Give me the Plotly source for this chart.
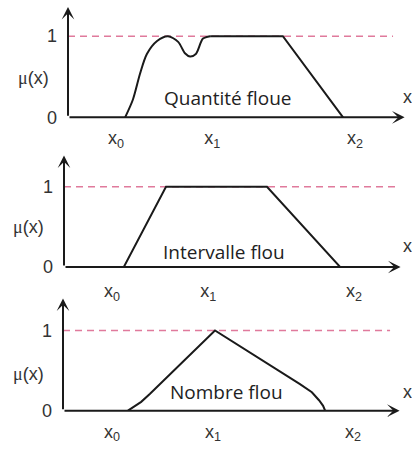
import plotly.graph_objects as go

# ---------------- data ----------------
panel_titles = ["Quantité floue", "Intervalle flou", "Nombre flou"]
tick_text = ["x<sub>0</sub>", "x<sub>1</sub>", "x<sub>2</sub>"]
y_tick_vals = [0, 1]
y_tick_text = ["0", "1"]

# Panel 1: fuzzy quantity (smooth rising part, then flat top and linear descent)
q_curve_x = [1.68, 1.91, 2.12, 2.32, 2.62, 2.94, 3.24, 3.44, 3.59, 3.76, 3.97, 4.18]
q_curve_y = [0.00, 0.22, 0.54, 0.78, 0.94, 1.00, 0.93, 0.79, 0.75, 0.78, 0.97, 1.00]
q_lin_x = [4.18, 6.32, 8.09]
q_lin_y = [1.00, 1.00, 0.00]
q_ticks = [1.41, 4.24, 8.44]
q_dash_end = 9.56

# Panel 2: fuzzy interval (trapezoid)
i_x = [1.76, 3.00, 5.97, 8.12]
i_y = [0.00, 1.00, 1.00, 0.00]
i_ticks = [1.41, 4.24, 8.53]
i_dash_end = 9.85

# Panel 3: fuzzy number (triangle, rounded foot on the right)
n_x = [1.91, 2.30, 2.56, 3.53, 4.47, 6.97, 7.32, 7.53, 7.65, 7.71]
n_y = [0.00, 0.11, 0.21, 0.61, 1.00, 0.33, 0.23, 0.13, 0.06, 0.00]
n_ticks = [1.44, 4.41, 8.53]
n_dash_end = 9.62

# ---------------- layout helpers ----------------
W, H = 412, 450
XUNIT = 34.0  # px per x unit
panels = [
    dict(xa=68, yb=120, yu=83, ytip=1.36, mu=(33, 80), xl=(401, 99), txt=(228, 100), xs=8),
    dict(xa=64, yb=273, yu=82, ytip=1.39, mu=(28, 232), xl=(401, 252), txt=(224, 258), xs=11),
    dict(xa=63, yb=420, yu=82, ytip=1.40, mu=(28, 382), xl=(401, 401), txt=(226, 401), xs=8),
]
XMAX = 10.0
YMAX = 1.4
XTIP = 9.9

fig = go.Figure()

BLACK = "#1a1a1a"
PINK = "#e07a9c"
LW = 2

series = [
    [(q_curve_x, q_curve_y, "spline"), (q_lin_x, q_lin_y, "linear")],
    [(i_x, i_y, "linear")],
    [(n_x, n_y, "linear")],
]
ticks = [q_ticks, i_ticks, n_ticks]
dash_ends = [q_dash_end, i_dash_end, n_dash_end]

annotations = []
for k, p in enumerate(panels):
    sx = "" if k == 0 else str(k + 1)
    xref, yref = "x" + sx, "y" + sx
    fig.add_trace(go.Scatter(x=[0, dash_ends[k]], y=[1, 1], mode="lines",
                             line=dict(color=PINK, width=1.5, dash="7px,5px"),
                             xaxis=xref, yaxis=yref, showlegend=False, hoverinfo="skip"))
    for xs, ys, shp in series[k]:
        fig.add_trace(go.Scatter(x=xs, y=ys, mode="lines",
                                 line=dict(color=BLACK, width=LW, shape=shp,
                                           smoothing=0.8 if shp == "spline" else None),
                                 xaxis=xref, yaxis=yref, showlegend=False, hoverinfo="skip"))
    annotations.append(dict(x=XTIP, y=0, ax=0, ay=0, xref=xref, yref=yref,
                            axref=xref, ayref=yref, text="", showarrow=True,
                            arrowhead=3, arrowsize=1.05, arrowwidth=2, arrowcolor=BLACK))
    annotations.append(dict(x=0, y=p["ytip"], ax=0, ay=0, xref=xref, yref=yref,
                            axref=xref, ayref=yref, text="", showarrow=True,
                            arrowhead=3, arrowsize=1.05, arrowwidth=2, arrowcolor=BLACK))
    annotations.append(dict(x=p["mu"][0] / W, y=1 - p["mu"][1] / H, xref="paper", yref="paper",
                            text="<span style='font-family:Liberation Serif'>\u03bc</span>(x)",
                            showarrow=False, xanchor="center", yanchor="middle",
                            font=dict(size=18, family="Liberation Sans", color="#333")))
    annotations.append(dict(x=p["xl"][0] / W, y=1 - p["xl"][1] / H, xref="paper", yref="paper",
                            text="x", showarrow=False, xanchor="left", yanchor="middle",
                            font=dict(size=18, family="Liberation Sans", color="#333")))
    annotations.append(dict(x=p["txt"][0] / W, y=1 - p["txt"][1] / H, xref="paper", yref="paper",
                            text=panel_titles[k], showarrow=False,
                            xanchor="center", yanchor="middle",
                            font=dict(size=19, family="Open Sans", color="#222")))

    xd = [p["xa"] / W, (p["xa"] + XMAX * XUNIT) / W]
    yd = [1 - p["yb"] / H, 1 - (p["yb"] - YMAX * p["yu"]) / H]
    ax_common = dict(showgrid=False, zeroline=False, showline=False, ticks="")
    fig.layout["xaxis" + sx] = dict(domain=xd, range=[0, XMAX], anchor=yref,
                                    tickvals=ticks[k], ticktext=tick_text,
                                    tickfont=dict(size=18, family="Liberation Sans", color="#333"),
                                    ticklabelstandoff=p["xs"], **ax_common)
    fig.layout["yaxis" + sx] = dict(domain=yd, range=[0, YMAX], anchor=xref,
                                    tickvals=y_tick_vals, ticktext=y_tick_text,
                                    tickfont=dict(size=18, family="Liberation Sans", color="#333"),
                                    ticklabelstandoff=10, **ax_common)

fig.update_layout(width=W, height=H, margin=dict(l=0, r=0, t=0, b=0),
                  paper_bgcolor="white", plot_bgcolor="white",
                  annotations=annotations, showlegend=False)

fig.write_html("out.html", config={"displayModeBar": False, "staticPlot": True},
               post_script="document.body.style.margin='0';document.body.style.padding='0';"
                           "document.documentElement.style.overflow='hidden';")
